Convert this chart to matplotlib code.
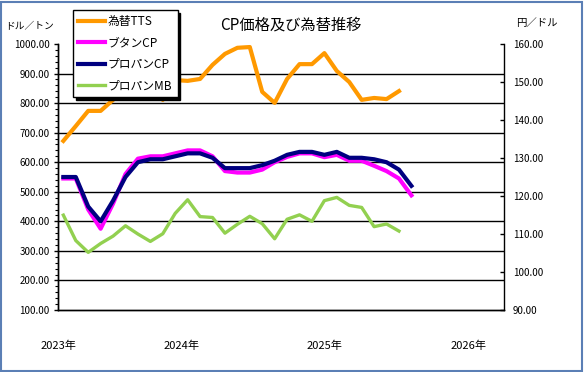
import numpy as np
import matplotlib
matplotlib.use("Agg")
import matplotlib.pyplot as plt
from matplotlib.patches import Rectangle
from matplotlib.ticker import FormatStrFormatter, MultipleLocator

plt.rcParams['font.family'] = ['Noto Sans CJK JP', 'DejaVu Sans']

# monthly data, Apr 2023 onwards (index 0 = 2023/04)
fx_tts = [134.5, 138.4, 142.4, 142.4, 145.3, 148.5, 150.5, 150.8, 145.3, 150.5,
          150.3, 150.8, 154.5, 157.4, 159.0, 159.2, 147.4, 144.5, 150.8, 154.7,
          154.7, 157.6, 152.9, 150.0, 145.3, 145.8, 145.5, 147.6]
butane_cp = [545, 545, 440, 375, 460, 560, 612, 620, 620, 630, 640, 640, 620, 570,
             565, 565, 575, 600, 618, 630, 630, 617, 625, 605, 605, 588, 570, 545, 488]
propane_cp = [550, 550, 450, 400, 470, 550, 600, 610, 610, 620, 630, 630, 615, 580,
              580, 580, 590, 605, 625, 635, 635, 625, 635, 615, 615, 610, 600, 575, 520]
propane_mb = [421, 335, 295, 325, 350, 385, 357, 332, 358, 427, 473, 416, 413, 360,
              390, 417, 392, 341, 407, 422, 400, 470, 481, 454, 447, 382, 391, 367]

year_labels = ["2023年", "2024年", "2025年", "2026年"]
year_pos = [-0.4, 9.5, 21.0, 32.6]

fig = plt.figure(figsize=(5.84, 3.72), dpi=100)
ax = fig.add_axes([58 / 584, 1 - 310 / 372, 446 / 584, 266 / 372])
ax2 = ax.twinx()

for v in range(200, 1000, 100):
    ax.axhline(v, color="black", lw=1, zorder=0.5)

ax.plot(np.arange(len(butane_cp)), butane_cp, color="#FF00FF", lw=3, label="ブタンCP", zorder=3)
ax.plot(np.arange(len(propane_cp)), propane_cp, color="#000080", lw=3, label="プロパンCP", zorder=4)
ax.plot(np.arange(len(propane_mb)), propane_mb, color="#92D050", lw=2.4, label="プロパンMB", zorder=3)
ax2.plot(np.arange(len(fx_tts)), fx_tts, color="#FF9900", lw=3, label="為替TTS")

ax.set_xlim(-0.43, 35.45)
ax.set_ylim(100, 1000)
ax2.set_ylim(90, 160)

ax.yaxis.set_major_locator(MultipleLocator(100))
ax.yaxis.set_minor_locator(MultipleLocator(20))
ax.yaxis.set_major_formatter(FormatStrFormatter("%.2f"))
ax2.yaxis.set_major_locator(MultipleLocator(10))
ax2.yaxis.set_major_formatter(FormatStrFormatter("%.2f"))

ax.tick_params(axis="y", which="major", length=3, width=1, pad=3, labelsize=7)
ax.tick_params(axis="y", which="minor", length=2, width=0.8)
ax2.tick_params(axis="y", direction="in", length=3, width=1, pad=6.5, labelsize=7)

ax.set_xticks(year_pos)
ax.set_xticklabels(year_labels, fontsize=8)
ax.tick_params(axis="x", length=0, pad=22)

for a in (ax, ax2):
    a.spines["top"].set_visible(False)
    for s in ("left", "bottom", "right"):
        a.spines[s].set_color("black")
        a.spines[s].set_linewidth(1)
ax.spines["right"].set_visible(False)

fig.text(291 / 584, 1 - 25 / 372, "CP価格及び為替推移", ha="center", va="center", fontsize=11)
fig.text(30 / 584, 1 - 26 / 372, "ドル／トン", ha="center", va="center", fontsize=7)
fig.text(537 / 584, 1 - 23 / 372, "円／ドル", ha="center", va="center", fontsize=7.5)

h1, l1 = ax2.get_legend_handles_labels()
h2, l2 = ax.get_legend_handles_labels()
leg = fig.legend(h1 + h2, l1 + l2, loc="upper left", bbox_to_anchor=(73 / 584, 1 - 10 / 372),
                 borderaxespad=0, fontsize=8.5, frameon=True, fancybox=False, edgecolor="black",
                 framealpha=1, shadow={"color": "black", "alpha": 1},
                 handlelength=2.3, handletextpad=0.2, labelspacing=0.7, borderpad=0.45)
leg.get_frame().set_linewidth(1)

fig.patches.append(Rectangle((0.002, 0.003), 0.994, 0.992, transform=fig.transFigure,
                             fill=False, edgecolor="#5b7fb5", lw=1.5))

fig.savefig("out.png", dpi=100)
